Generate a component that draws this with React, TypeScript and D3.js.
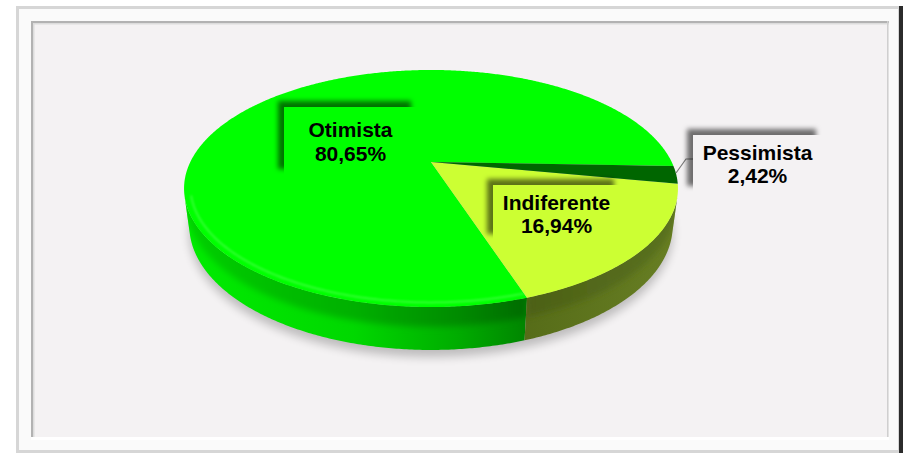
import React from 'react';
import * as d3 from 'd3';

// ---- data ----
const categories = ['Otimista', 'Indiferente', 'Pessimista'];
const values = [80.65, 16.94, 2.42];
const valueLabels = ['80,65%', '16,94%', '2,42%'];

// ---- styles ----
const topColors = ['#00ff00', '#ccff33', '#006600'];
const sideLower = ['url(#gOtL)', 'url(#gIndL)', '#005200'];
const sideUpper = ['url(#gOtU)', 'url(#gIndU)', '#004400'];
const boxFills = ['#00ff00', '#ccff33', '#f4f2f3'];
// label boxes: [x, y, w, h, baseline1, baseline2]
const boxes = [
  [284, 107, 133, 68, 137, 161],
  [493, 185, 127, 55, 210, 233],
  [693, 135, 129, 57, 160, 183],
];

const W = 903, H = 453;
const CX = 431, CY = 162;   // projected pie centre
const A = 240.7;            // f*R/D
const K = 0.253;            // R/D (perspective)
const SA = 0.4678, CA = 0.8838; // elevation sin/cos
const T = 0.175;            // thickness in R units
const deg = Math.PI / 180;

function project(a: number, r: number, y: number): [number, number] {
  const x = r * Math.sin(a), z = r * Math.cos(a);
  const depth = 1 + K * (z * CA - y * SA);
  const up = y * CA + z * SA;
  return [CX + (A * x) / depth, CY - (A * up) / depth];
}

function sampleArc(a0: number, a1: number, y: number, r = 1): [number, number][] {
  const n = Math.max(4, Math.ceil(Math.abs(a1 - a0) / (0.5 * deg)));
  const pts: [number, number][] = [];
  for (let i = 0; i <= n; i++) pts.push(project(a0 + ((a1 - a0) * i) / n, r, y));
  return pts;
}

const line = d3.line();

export default function App() {
  const pie = d3.pie<number>().sort(null).startAngle(92 * deg).endAngle(92 * deg - 2 * Math.PI);
  const arcs = pie(values);

  const visMin = Math.acos(-K / CA);
  const visMax = 2 * Math.PI - visMin;

  const norm = (a: number) => {
    let v = a % (2 * Math.PI);
    if (v < 0) v += 2 * Math.PI;
    return v;
  };

  const walls: { d: string; upper: string; lower: string; upperD: string }[] = [];
  const tops: { d: string; fill: string }[] = [];
  const rims: string[] = [];
  arcs.forEach((arc, i) => {
    let a0 = Math.min(arc.startAngle, arc.endAngle);
    let a1 = Math.max(arc.startAngle, arc.endAngle);
    const s = norm(a0);
    const shift = s - a0;
    a0 += shift; a1 += shift;
    const topPts = [project(0, 0, 0), ...sampleArc(a0, a1, 0)];
    tops.push({ d: line(topPts) + 'Z', fill: topColors[i] });
    for (const off of [0, -2 * Math.PI]) {
      const b0 = Math.max(a0 + off, visMin);
      const b1 = Math.min(a1 + off, visMax);
      if (b1 > b0) {
        const up = sampleArc(b0, b1, 0);
        const dn = sampleArc(b0, b1, -T).reverse();
        const mid = sampleArc(b0, b1, -T * 0.45).reverse();
        walls.push({
          d: line([...up, ...dn]) + 'Z',
          upperD: line([...sampleArc(b0, b1, 0.05), ...mid]) + 'Z',
          upper: sideUpper[i],
          lower: sideLower[i],
        });
        if (i === 0) rims.push(line(sampleArc(b0, b1, 0, 0.975)) as string);
      }
    }
  });

  const shadowPts = sampleArc(0, 2 * Math.PI, -T).map(([x, y]) => [x, y + 7] as [number, number]);

  return (
    <svg width={W} height={H} style={{ position: 'absolute', left: 0, top: 0 }}
      fontFamily="'Liberation Sans', Arial, sans-serif">
      <defs>
        <linearGradient id="gOtL" gradientUnits="userSpaceOnUse" x1={183} y1={0} x2={525} y2={0}>
          <stop offset="0" stopColor="#00ec00" />
          <stop offset="0.5" stopColor="#00d800" />
          <stop offset="0.8" stopColor="#00ad00" />
          <stop offset="1" stopColor="#008600" />
        </linearGradient>
        <linearGradient id="gOtU" gradientUnits="userSpaceOnUse" x1={183} y1={0} x2={525} y2={0}>
          <stop offset="0" stopColor="#00d000" />
          <stop offset="0.5" stopColor="#00b000" />
          <stop offset="0.8" stopColor="#008c00" />
          <stop offset="1" stopColor="#006c00" />
        </linearGradient>
        <linearGradient id="gIndL" gradientUnits="userSpaceOnUse" x1={523} y1={0} x2={680} y2={0}>
          <stop offset="0" stopColor="#566c18" />
          <stop offset="1" stopColor="#687f24" />
        </linearGradient>
        <linearGradient id="gIndU" gradientUnits="userSpaceOnUse" x1={523} y1={0} x2={680} y2={0}>
          <stop offset="0" stopColor="#4c6015" />
          <stop offset="1" stopColor="#5a7220" />
        </linearGradient>
        {walls.map((w, i) => (
          <clipPath key={'c' + i} id={'wallClip' + i}>
            <path d={w.d} />
          </clipPath>
        ))}
        <filter id="pieShadow" x="-20%" y="-20%" width="140%" height="160%">
          <feGaussianBlur stdDeviation="5" />
        </filter>
        <filter id="bandBlur" x="-5%" y="-30%" width="110%" height="160%">
          <feGaussianBlur stdDeviation="3" />
        </filter>
        <filter id="rimBlur" x="-5%" y="-20%" width="110%" height="140%">
          <feGaussianBlur stdDeviation="1.2" />
        </filter>
        <filter id="boxShadow" x="-20%" y="-30%" width="140%" height="160%">
          <feGaussianBlur in="SourceAlpha" stdDeviation="2.5" />
          <feOffset dx="-6" dy="-6" result="b" />
          <feFlood floodColor="#000" floodOpacity="0.55" />
          <feComposite in2="b" operator="in" result="s" />
          <feMerge>
            <feMergeNode in="s" />
            <feMergeNode in="SourceGraphic" />
          </feMerge>
        </filter>
      </defs>

      {/* frame */}
      <rect x={0} y={0} width={W} height={H} fill="#ffffff" />
      <rect x={16} y={6} width={883} height={447} fill="#d6d6d6" />
      <rect x={19} y={9} width={879} height={441} fill="#fafafa" />
      <rect x={899} y={6} width={4} height={447} fill="#2b2b2b" />
      <rect x={31} y={21} width={858} height={419} fill="#f4f2f3" />
      <rect x={31} y={21} width={858} height={2} fill="#b2b2b2" />
      <rect x={31} y={23} width={858} height={1.5} fill="#dcdcdc" />
      <rect x={31} y={21} width={2} height={419} fill="#b2b2b2" />
      <rect x={33} y={23} width={1.5} height={417} fill="#dcdcdc" />
      <rect x={887} y={21} width={1.5} height={419} fill="#cfcfcf" />
      <rect x={31} y={437} width={858} height={3} fill="#ffffff" />

      {/* pie shadow */}
      <path d={line(shadowPts) + 'Z'} fill="#000" opacity={0.22} filter="url(#pieShadow)" />

      {walls.map((w, i) => (
        <g key={'w' + i}>
          <path d={w.d} fill={w.lower} />
          <g clipPath={`url(#wallClip${i})`}>
            <path d={w.upperD} fill={w.upper} filter="url(#bandBlur)" />
          </g>
        </g>
      ))}
      {tops.map((t, i) => (
        <path key={'t' + i} d={t.d} fill={t.fill} />
      ))}
      {rims.map((d, i) => (
        <path key={'r' + i} d={d} fill="none" stroke="#66ff66" strokeWidth={2} opacity={0.5} filter="url(#rimBlur)" />
      ))}

      {/* leader line for Pessimista */}
      <polyline points="693,159 686,159 676,173" fill="none" stroke="#7a7a7a" strokeWidth={1.2} />

      {/* labels */}
      {categories.map((c, i) => {
        const [x, y, w, h, b1, b2] = boxes[i];
        return (
          <g key={'l' + i}>
            <rect x={x} y={y} width={w} height={h} fill={boxFills[i]} filter="url(#boxShadow)" />
            <text x={x + w / 2} y={b1} textAnchor="middle" fontWeight="bold" fontSize={21} fill="#000">{c}</text>
            <text x={x + w / 2} y={b2} textAnchor="middle" fontWeight="bold" fontSize={21} fill="#000">{valueLabels[i]}</text>
          </g>
        );
      })}
    </svg>
  );
}
